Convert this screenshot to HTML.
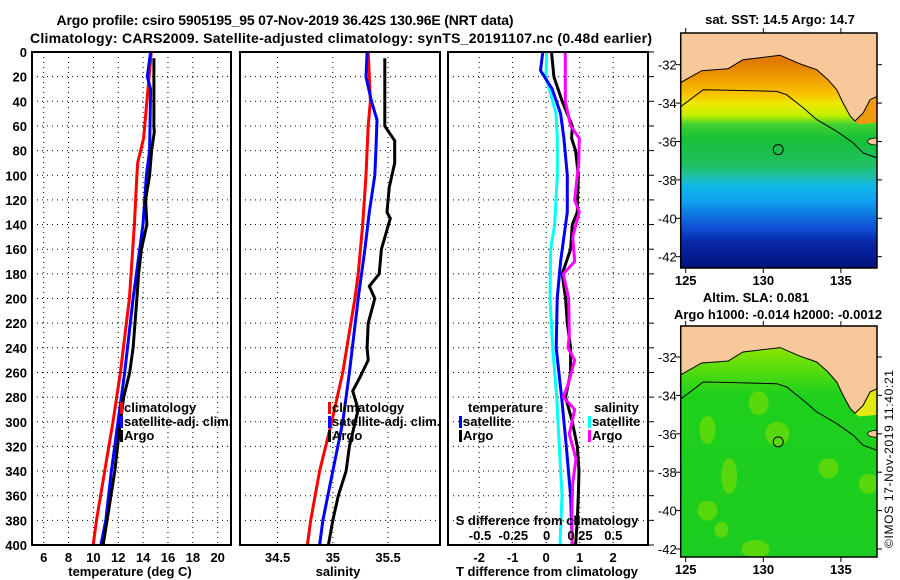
<!DOCTYPE html>
<html><head><meta charset="utf-8"><style>
body{margin:0;background:#fff}
svg{display:block;font-family:"Liberation Sans",Arial,sans-serif;font-weight:bold}
</style></head><body>
<svg id="fig" width="900" height="580" viewBox="0 0 900 580" xmlns="http://www.w3.org/2000/svg">
<defs>
<linearGradient id="sstGrad" x1="0" y1="0" x2="0" y2="1">
<stop offset="0.12" stop-color="#e07a00"/><stop offset="0.2" stop-color="#f0a000"/>
<stop offset="0.26" stop-color="#f8c400"/><stop offset="0.3" stop-color="#ece800"/>
<stop offset="0.35" stop-color="#c4f000"/><stop offset="0.39" stop-color="#40d030"/>
<stop offset="0.45" stop-color="#18c038"/><stop offset="0.56" stop-color="#20c060"/>
<stop offset="0.61" stop-color="#20c0a8"/><stop offset="0.65" stop-color="#10b8e8"/>
<stop offset="0.72" stop-color="#10a0f0"/><stop offset="0.78" stop-color="#1070e0"/>
<stop offset="0.84" stop-color="#1048d0"/><stop offset="0.89" stop-color="#0828a8"/>
<stop offset="1" stop-color="#00127e"/>
</linearGradient>
<linearGradient id="slaGrad" x1="0" y1="0" x2="0" y2="1">
<stop offset="0.1" stop-color="#88e400"/><stop offset="0.2" stop-color="#50dc10"/>
<stop offset="0.3" stop-color="#1ed01c"/><stop offset="1" stop-color="#1ccc20"/>
</linearGradient>
</defs>
<g id="titles">
<text x="285" y="25" text-anchor="middle" font-size="14" textLength="457">Argo profile: csiro 5905195_95 07-Nov-2019 36.42S 130.96E (NRT data)</text>
<text x="341" y="43" text-anchor="middle" font-size="14" textLength="622">Climatology: CARS2009. Satellite-adjusted climatology: synTS_20191107.nc (0.48d earlier)</text>
</g>
<g id="p1"></g>
<g id="p2"></g>
<g id="p3"></g>
<g id="m1"></g>
<g id="m2"></g>
<text transform="translate(893,459) rotate(-90)" text-anchor="middle" font-size="12" font-weight="normal" textLength="178">©IMOS 17-Nov-2019 11:40:21</text>
</svg>
<script>
// ---- data ----
const tempDepth = [0,70,90,100,140,200,260,300,340,380,400];
const tempClim = [14.66,14.04,13.56,13.5,13.3,12.9,12.17,11.58,10.91,10.25,9.98];
const tempSatDepth = [0,20,30,80,100,140,180,200,260,300,340,380,400];
const tempSat = [14.6,14.34,14.6,14.52,14.26,13.99,13.46,13.19,12.52,11.98,11.45,11.0,10.6];
const tempArgoDepth = [5,60,65,80,100,120,140,160,180,200,240,260,280,300,340,380,400];
const tempArgo = [14.87,14.87,14.9,14.68,14.52,14.2,14.3,13.86,13.64,13.5,13.19,12.92,12.44,12.17,11.72,11.1,10.78];
const salClimDepth = [0,40,60,100,140,180,200,260,300,340,380,400];
const salClim = [35.32,35.34,35.32,35.3,35.27,35.23,35.2,35.09,34.99,34.88,34.8,34.77];
const salSatDepth = [0,20,40,55,80,100,130,160,200,260,300,340,380,400];
const salSat = [35.31,35.3,35.35,35.4,35.39,35.38,35.33,35.29,35.23,35.15,35.09,35.0,34.91,34.88];
const salArgoDepth = [5,60,72,90,110,130,135,160,180,190,200,220,240,250,265,275,290,320,340,360,380,400];
const salArgo = [35.47,35.47,35.56,35.56,35.51,35.49,35.52,35.44,35.42,35.33,35.38,35.32,35.31,35.32,35.24,35.18,35.23,35.15,35.12,35.05,35.0,34.96];
const tdSatDepth = [0,15,30,50,70,100,130,150,170,200,240,280,320,360,400];
const tdSat = [-0.1,-0.17,0.18,0.43,0.53,0.63,0.63,0.53,0.43,0.33,0.3,0.46,0.6,0.73,0.78];
const tdArgoDepth = [0,20,40,60,70,80,100,130,140,160,180,200,220,240,260,280,300,320,340,360,380,400];
const tdArgo = [0.16,0.23,0.48,0.78,0.76,0.88,0.96,0.93,0.78,0.73,0.48,0.58,0.63,0.73,0.73,0.58,0.78,0.93,0.98,0.96,0.93,0.88];
const sdSatDepth = [0,20,30,50,70,100,140,160,200,240,280,320,360,400];
const sdSat = [0,-0.005,0.02,0.07,0.08,0.08,0.06,0.03,0.025,0.045,0.075,0.095,0.115,0.1];
const sdArgoDepth = [0,40,60,70,90,100,120,130,150,170,180,200,230,240,250,270,280,290,310,330,350,370,400];
const sdArgo = [0.14,0.14,0.18,0.245,0.24,0.23,0.21,0.245,0.195,0.21,0.125,0.165,0.17,0.16,0.21,0.16,0.125,0.21,0.17,0.22,0.195,0.19,0.19];
const depthTicks = [0,20,40,60,80,100,120,140,160,180,200,220,240,260,280,300,320,340,360,380,400];
const tempTicks = [6,8,10,12,14,16,18,20];
const salTicks = [34.5,35,35.5];
const salTickLabels = ["34.5","35","35.5"];
const tdTicks = [-2,-1,0,1,2];
const sdTicks = [-0.5,-0.25,0,0.25,0.5];
const lonTicks = [125,130,135];
const latTicks = [-32,-34,-36,-38,-40,-42];
const coastLon = [124.63,126.03,127.73,128.69,131.08,132.37,133.44,134.17,134.73,135.14,135.59,135.91,136.43,136.88,137.33];
const coastLat = [-32.95,-32.31,-32.21,-31.74,-31.51,-31.96,-32.26,-32.78,-33.3,-34.0,-34.67,-34.93,-34.52,-33.82,-33.65];
const contourLon = [124.63,126.13,127.85,130.86,131.5,132.58,133.44,134.73,135.8,136.44,137.33];
const contourLat = [-34.22,-33.3,-33.33,-33.39,-33.56,-34.25,-34.86,-35.47,-36.08,-36.6,-36.86];
const argoLon = 130.96, argoLat = -36.42;

const NS="http://www.w3.org/2000/svg";
function mk(parent,tag,attrs,txt){const e=document.createElementNS(NS,tag);for(const k in attrs)e.setAttribute(k,attrs[k]);if(txt!==undefined)e.textContent=txt;parent.appendChild(e);return e;}
const Y0=52,Y1=545;
const yD=d=>Y0+(d/400)*(Y1-Y0);
function lin(d0,d1,r0,r1){return v=>r0+(v-d0)/(d1-d0)*(r1-r0);}

function panel(g,x0,x1,xs,ticks,labels,showY){
  mk(g,'rect',{x:x0,y:Y0,width:x1-x0,height:Y1-Y0,fill:'#fff',stroke:'none'});
  depthTicks.forEach(d=>{if(d>0&&d<400){const l=mk(g,'line',{x1:x0,x2:x1,y1:yD(d),y2:yD(d),stroke:'#000','stroke-dasharray':'1,4'});
    
    }
    if(showY){const t=mk(g,'text',{x:27,y:yD(d)+5,'text-anchor':'end','font-size':13},String(d));
    
    }});
  ticks.forEach((v,i)=>{const x=xs(v);const l=mk(g,'line',{x1:x,x2:x,y1:Y0,y2:Y1,stroke:'#000','stroke-dasharray':'1,4'});
    
    
    if(labels){const t=mk(g,'text',{x:x,y:562,'text-anchor':'middle','font-size':13},labels[i]);
    
    }});
}
function frame(g,x0,x1){const r=mk(g,'rect',{x:x0,y:Y0,width:x1-x0,height:Y1-Y0,fill:'none',stroke:'#000','stroke-width':2});
  
  }
function series(g,xs,depths,vals,color,name){
  const pts=vals.map((v,i)=>xs(v).toFixed(1)+','+yD(depths[i]).toFixed(1)).join(' ');
  const p=mk(g,'polyline',{points:pts,fill:'none',stroke:color,'stroke-width':3,'stroke-linejoin':'miter'});
  
  
}
function legend(g,x,y,items){items.forEach((it,i)=>{
  const b=mk(g,'rect',{x:x,y:y+i*14-10,width:3,height:12,fill:it[0]});
  
  
  const t=mk(g,'text',{x:x+4,y:y+i*14,'font-size':13},it[1]);
  
  });}

// Panel 1
const g1=document.getElementById('p1');
const xT=lin(5.06,21.07,32,231);
panel(g1,32,231,xT,tempTicks,tempTicks.map(String),true);
series(g1,xT,tempDepth,tempClim,'#f00','temp-climatology-line');
series(g1,xT,tempSatDepth,tempSat,'#00f','temp-satellite-line');
series(g1,xT,tempArgoDepth,tempArgo,'#000','temp-argo-line');
legend(g1,120,412,[['#f00','climatology'],['#00f','satellite-adj. clim.'],['#000','Argo']]);
frame(g1,32,231);
let t=mk(g1,'text',{x:130,y:576,'text-anchor':'middle','font-size':13},'temperature (deg C)');



// Panel 2
const g2=document.getElementById('p2');
const xS=lin(34.16,35.97,240,440);
panel(g2,240,440,xS,salTicks,salTickLabels,false);
series(g2,xS,salClimDepth,salClim,'#f00','sal-climatology-line');
series(g2,xS,salSatDepth,salSat,'#00f','sal-satellite-line');
series(g2,xS,salArgoDepth,salArgo,'#000','sal-argo-line');
legend(g2,328,412,[['#f00','climatology'],['#00f','satellite-adj. clim.'],['#000','Argo']]);
frame(g2,240,440);
t=mk(g2,'text',{x:338,y:576,'text-anchor':'middle','font-size':13},'salinity');



// Panel 3
const g3=document.getElementById('p3');
const xTD=lin(-2.93,3.04,448,648);
const xSD=lin(-0.74,0.76,448,648);
panel(g3,448,648,xTD,tdTicks,tdTicks.map(String),false);
series(g3,xSD,sdSatDepth,sdSat,'#0ff','sdiff-satellite-line');
series(g3,xTD,tdSatDepth,tdSat,'#00f','tdiff-satellite-line');
series(g3,xTD,tdArgoDepth,tdArgo,'#000','tdiff-argo-line');
series(g3,xSD,sdArgoDepth,sdArgo,'#f0f','sdiff-argo-line');
t=mk(g3,'text',{x:468,y:412,'font-size':13},'temperature');


legend(g3,459,426,[['#00f','satellite'],['#000','Argo']]);
t=mk(g3,'text',{x:594,y:412,'font-size':13},'salinity');


legend(g3,588,426,[['#0ff','satellite'],['#f0f','Argo']]);
t=mk(g3,'text',{x:547,y:525,'text-anchor':'middle','font-size':13},'S difference from climatology');


sdTicks.forEach(v=>{const s=mk(g3,'text',{x:xSD(v),y:540,'text-anchor':'middle','font-size':13},String(v));
  
  });
depthTicks.forEach(d=>{const l=mk(g3,'line',{x1:648,x2:654,y1:yD(d),y2:yD(d),stroke:'#000'});
  
  });
frame(g3,448,648);
t=mk(g3,'text',{x:547,y:576,'text-anchor':'middle','font-size':13},'T difference from climatology');



// Maps
function map(g,top,bottom,y32,fillId,landCol,gulfCol,title,blobs){
  const L=680.7,R=877;
  const mx=lin(125,130,685.7,763.3);
  const my=v=>y32+(-32-v)*19.2;
  const clip='clip'+top;
  const cp=mk(g,'clipPath',{id:clip});mk(cp,'rect',{x:L,y:top,width:R-L,height:bottom-top});
  const inner=mk(g,'g',{'clip-path':'url(#'+clip+')'});
  mk(inner,'rect',{x:L,y:top,width:R-L,height:bottom-top,fill:'url(#'+fillId+')'});
  if(blobs)blobs.forEach(b=>{const e=mk(inner,'ellipse',{cx:mx(b[0]),cy:my(b[1]),rx:b[2],ry:b[3],fill:'#80e000',opacity:0.6});
    
    });
  mk(inner,'polygon',{points:[[135.8,-34.9],[136.4,-34.5],[136.9,-33.8],[137.5,-33.5],[137.5,-35.0],[136.2,-35.1]].map(p=>mx(p[0])+','+my(p[1])).join(' '),fill:gulfCol});
  const pts=coastLon.map((v,i)=>mx(v).toFixed(1)+','+my(coastLat[i]).toFixed(1));
  const land=mk(inner,'polygon',{points:pts.join(' ')+' '+(R+2)+','+(top-2)+' '+(L-2)+','+(top-2),fill:landCol});
  
  
  mk(inner,'polyline',{points:pts.join(' '),fill:'none',stroke:'#000','stroke-width':1});
  mk(inner,'ellipse',{cx:mx(137.3),cy:my(-36.0),rx:9,ry:3.5,fill:landCol,stroke:'#000','stroke-width':0.8});
  const cl=mk(inner,'polyline',{points:contourLon.map((v,i)=>mx(v).toFixed(1)+','+my(contourLat[i]).toFixed(1)).join(' '),fill:'none',stroke:'#000','stroke-width':1});
  
  
  const c=mk(g,'circle',{cx:mx(argoLon),cy:my(argoLat),r:5,fill:'none',stroke:'#000','stroke-width':1});
  
  
  mk(g,'rect',{x:L,y:top,width:R-L,height:bottom-top,fill:'none',stroke:'#000','stroke-width':1.5});
  latTicks.forEach(v=>{const y=my(v);mk(g,'line',{x1:L-5,x2:L,y1:y,y2:y,stroke:'#000'});mk(g,'line',{x1:R,x2:R+5,y1:y,y2:y,stroke:'#000'});
    const tt=mk(g,'text',{x:L-4,y:y+5,'text-anchor':'end','font-size':13,'font-weight':'normal'},String(v));
    
    });
  lonTicks.forEach(v=>{const x=mx(v);mk(g,'line',{x1:x,x2:x,y1:bottom,y2:bottom+5,stroke:'#000'});mk(g,'line',{x1:x,x2:x,y1:top-5,y2:top,stroke:'#000'});
    const tt=mk(g,'text',{x:x,y:bottom+17,'text-anchor':'middle','font-size':13},String(v));
    
    });
  title.forEach(tl=>{const tt=mk(g,'text',{x:tl[0],y:tl[1],'text-anchor':'middle','font-size':13},tl[2]);
    
    });
}
map(document.getElementById('m1'),33,268,64.7,'sstGrad','#f9c89a','#f09a10',[[780,24,'sat. SST: 14.5 Argo: 14.7']]);
map(document.getElementById('m2'),326,557,357,'slaGrad','#f9c89a','#e0ea10',
  [[756,302,'Altim. SLA: 0.081'],[778,319,'Argo h1000: -0.014 h2000: -0.0012']],
  [[129.7,-34.4,10,12],[126.4,-35.8,8,14],[130.9,-36.0,12,12],[134.2,-37.8,10,10],[127.8,-38.2,8,18],[126.4,-40.0,10,10],[136.8,-38.6,10,10],[129.5,-42.0,14,9],[127.3,-41.0,7,8]]);
</script>
</body></html>
